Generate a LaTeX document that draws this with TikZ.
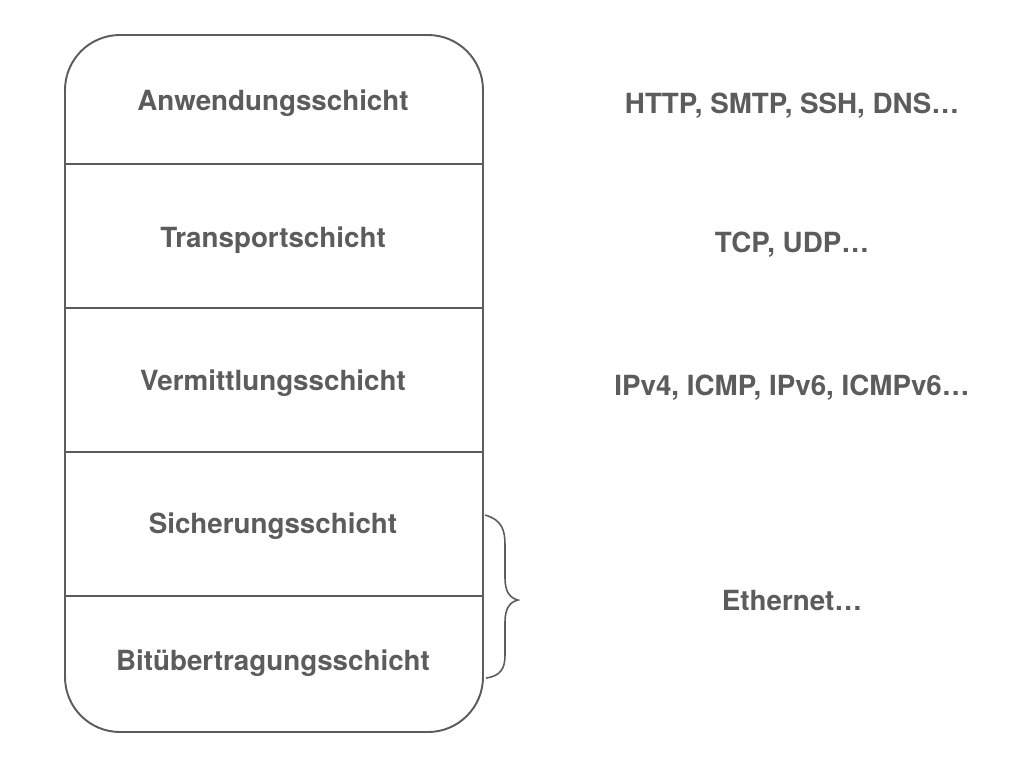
\documentclass[tikz,border=0pt]{standalone}
\usepackage{fontspec}
\setmainfont{TeX Gyre Heros}
\definecolor{layergray}{RGB}{92,92,92}

\begin{document}
\begin{tikzpicture}[x=0.02cm,y=-0.02cm,
    layer/.style={font=\fontsize{15.8}{18}\selectfont\bfseries,text=layergray,anchor=base,inner sep=0pt},
    proto/.style={layer},
    edge/.style={layergray,line width=1.1pt}]
    \useasboundingbox (0,0) rectangle (1024,768);
    %the stack of layers
    \draw[edge,rounded corners=1.1cm] (65,35) rectangle (483,732);
    \foreach \y in {164,308,452,596}
        \draw[edge] (65,\y) -- (483,\y);
    \node[layer] (anw) at (273,110) {Anwendungsschicht};
    \node[layer] (trans) at (273,247) {Transportschicht};
    \node[layer] (verm) at (273,390) {Vermittlungsschicht};
    \node[layer] (sich) at (273,533) {Sicherungsschicht};
    \node[layer] (bit) at (273,670) {Bitübertragungsschicht};
    %protocols per layer
    \node[proto] (http) at (792,113) {HTTP, SMTP, SSH, DNS…};
    \node[proto] (tcp) at (792,252) {TCP, UDP…};
    \node[proto] (ip) at (792,395) {IPv4, ICMP, IPv6, ICMPv6…};
    \node[proto] (eth) at (792,610) {Ethernet…};
    %brace over the two lowest layers
    \draw[edge,line width=0.9pt] (485,515) .. controls (502,520) and (505,530) .. (505,545)
        -- (505,578) .. controls (505,592) and (510,598) .. (518,600)
        .. controls (510,602) and (505,608) .. (505,622)
        -- (505,655) .. controls (505,668) and (501,676) .. (486,678);
\end{tikzpicture}
\end{document}
